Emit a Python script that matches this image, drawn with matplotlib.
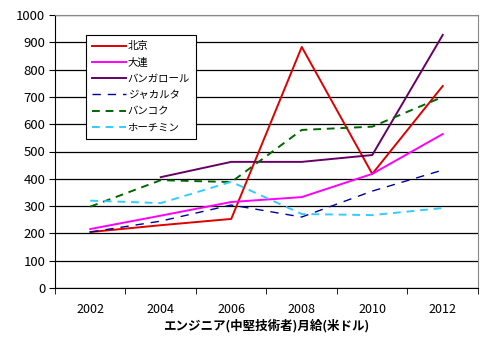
import numpy as np
import matplotlib.pyplot as plt

plt.rcParams['font.family'] = ['Noto Sans CJK JP', 'DejaVu Sans']

years = ['2002', '2004', '2006', '2008', '2010', '2012']
beijing = [205, 230, 253, 883, 418, 740]
dalian = [216, 265, 315, 333, 418, 564]
bangalore = [np.nan, 406, 462, 462, 487, 927]
jakarta = [205, 245, 304, 260, 355, 432]
bangkok = [298, 395, 388, 579, 591, 700]
hochiminh = [320, 311, 389, 271, 267, 293]

fig = plt.figure(figsize=(4.85, 3.48), dpi=100)
ax = fig.add_axes([55/485, 1-288/348, 423/485, 273/348])
x = np.arange(len(years))

ax.plot(x, beijing, color='#dd0000', lw=1.4, label='北京')
ax.plot(x, dalian, color='#ff00ff', lw=1.4, label='大連')
ax.plot(x, bangalore, color='#660066', lw=1.4, label='バンガロール')
ax.plot(x, jakarta, color='#000099', lw=1.0, ls=(0, (6, 5)), label='ジャカルタ')
ax.plot(x, bangkok, color='#006600', lw=1.4, ls=(0, (4, 3)), label='バンコク')
ax.plot(x, hochiminh, color='#33ccff', lw=1.4, ls=(0, (4, 3)), label='ホーチミン')

ax.set_xlim(-0.5, 5.5)
ax.set_ylim(0, 1000)
ax.set_yticks(np.arange(0, 1001, 100))
ax.set_xticks(x)
ax.set_xticklabels(years)
ax.set_xticks(np.arange(-0.5, 5.6, 1), minor=True)
ax.tick_params(axis='x', which='major', length=0, pad=11, labelsize=9)
ax.tick_params(axis='x', which='minor', length=4, direction='out')
ax.tick_params(axis='y', length=4, direction='out', labelsize=9.5, pad=3)
ax.grid(axis='y', color='black', lw=0.9)
ax.set_axisbelow(True)

for s in ['top', 'right']:
    ax.spines[s].set_color('#888888')
ax.spines['left'].set_color('black')
ax.spines['bottom'].set_color('black')

ax.set_xlabel('エンジニア(中堅技術者)月給(米ドル)', fontsize=9, fontweight='bold', labelpad=2)

# 凡例：プロット領域の左上に枠付きで配置
leg = ax.legend(loc='upper left', bbox_to_anchor=(31/423, 1-20/273), fontsize=7.5,
                frameon=True, fancybox=False, edgecolor='black', framealpha=1,
                handlelength=3.2, handletextpad=0.2, labelspacing=0.6,
                borderpad=0.6, borderaxespad=0)
leg.get_frame().set_linewidth(0.8)

fig.savefig('out.png', dpi=100)
